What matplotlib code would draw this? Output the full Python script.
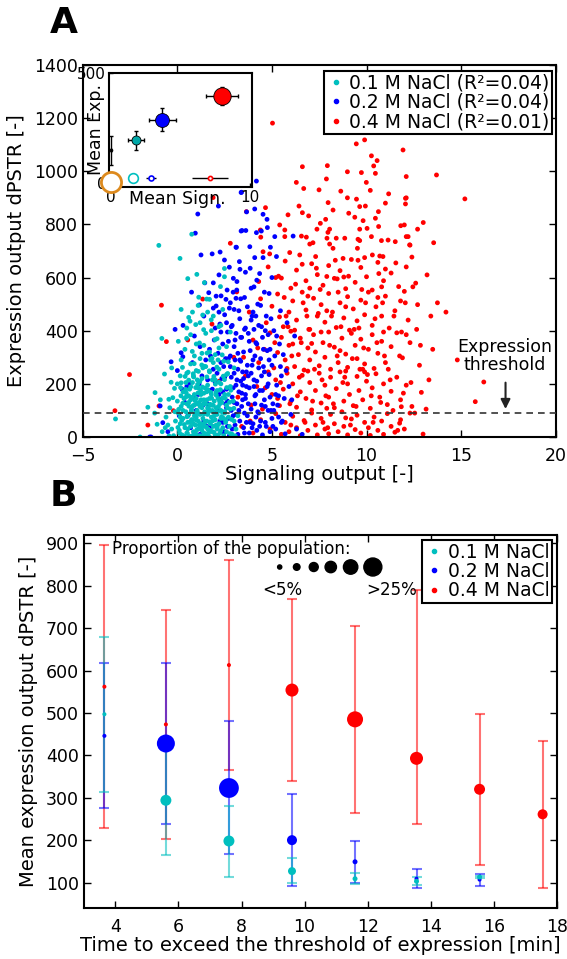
import numpy as np
import matplotlib
matplotlib.use('Agg')
from matplotlib import pyplot as plt

plt.rcParams['font.family'] = ['DejaVu Sans']

# ---------- panel A: single cell scatter (signaling, expression) ----------
red_pts = [
    (9.46, 1103), (9.9, 1118), (11.93, 1080), (10.26, 1058), (10.56, 1040), (10.38, 1020), (6.61, 1017),
    (7.93, 1021), (8.99, 998), (9.73, 995), (10.47, 992), (12.1, 980), (7.88, 971), (6.29, 958), (9.99, 958),
    (6.68, 935), (7.49, 930), (8.64, 925), (10.2, 928), (11.17, 915), (8.99, 900), (9.47, 895), (12.06, 898),
    (7.97, 882), (11.0, 880), (9.64, 867), (9.94, 869), (12.06, 877), (6.43, 869), (6.61, 844), (6.94, 832),
    (8.23, 854), (9.06, 842), (10.63, 848), (5.85, 836), (7.84, 819), (7.56, 804), (9.38, 827), (9.82, 814),
    (10.47, 823), (5.41, 798), (5.68, 779), (7.38, 782), (8.05, 782), (7.96, 770), (9.64, 782), (10.03, 785),
    (10.64, 792), (11.81, 795), (4.66, 863), (3.65, 848), (4.39, 779), (4.41, 752), (6.56, 756), (6.82, 752),
    (5.68, 754), (7.0, 726), (7.17, 731), (7.91, 748), (8.4, 748), (8.85, 748), (9.55, 744), (9.64, 739),
    (10.26, 754), (10.79, 739), (11.14, 741), (11.52, 735), (12.1, 754), (4.53, 697), (4.88, 689), (5.94, 694),
    (6.47, 685), (7.31, 679), (8.05, 726), (8.23, 710), (8.76, 672), (9.52, 710), (10.31, 685), (10.7, 681),
    (10.87, 679), (12.28, 723), (13.7, 986), (15.2, 896), (12.1, 900), (12.0, 798), (13.0, 807), (12.7, 782),
    (12.2, 754), (13.55, 731), (12.3, 722), (12.4, 677), (5.03, 1181), (1.89, 901),
    # 550 - 680
    (4.3, 585), (4.8, 640), (5.2, 600), (5.7, 662), (6.0, 560), (6.3, 628), (6.8, 588), (7.1, 652), (7.4, 611),
    (7.7, 571), (8.0, 645), (8.3, 597), (8.6, 626), (8.9, 558), (9.2, 668), (9.4, 582), (9.7, 638), (10.0, 603),
    (10.3, 553), (10.6, 657), (10.9, 588), (11.3, 617), (11.7, 566), (12.1, 640), (12.6, 579), (7.0, 560),
    (8.8, 602), (9.9, 675), (6.6, 650), (10.8, 565), (5.5, 598), (7.9, 604), (11.0, 632), (13.2, 610),
    # 400 - 550
    (3.8, 470), (4.4, 520), (4.7, 430), (5.0, 492), (5.3, 538), (5.6, 415), (5.9, 470), (6.1, 512), (6.3, 440),
    (6.6, 545), (6.8, 478), (7.0, 405), (7.2, 522), (7.4, 455), (7.6, 498), (7.8, 432), (8.0, 540), (8.2, 470),
    (8.4, 412), (8.6, 505), (8.8, 448), (9.0, 528), (9.1, 402), (9.3, 482), (9.5, 437), (9.7, 515), (9.9, 460),
    (10.1, 545), (10.3, 420), (10.5, 490), (10.8, 455), (11.0, 530), (11.2, 410), (11.5, 475), (11.8, 512),
    (12.2, 440), (12.7, 498), (13.4, 455), (6.9, 530), (8.5, 545), (9.6, 410), (7.9, 475), (10.6, 525),
    (5.4, 452), (12.0, 548), (14.2, 470), (6.2, 402), (8.9, 490),
    # 250 - 400
    (3.5, 300), (4.0, 365), (4.3, 280), (4.6, 330), (4.9, 392), (5.1, 260), (5.3, 318), (5.5, 375), (5.7, 290),
    (5.9, 345), (6.0, 398), (6.2, 265), (6.4, 310), (6.5, 372), (6.7, 252), (6.9, 335), (7.0, 290), (7.2, 385),
    (7.3, 320), (7.5, 268), (7.7, 355), (7.8, 300), (8.0, 395), (8.1, 255), (8.3, 338), (8.5, 280), (8.7, 372),
    (8.9, 312), (9.0, 262), (9.2, 390), (9.4, 345), (9.5, 295), (9.7, 368), (9.9, 275), (10.1, 330),
    (10.3, 385), (10.4, 258), (10.6, 315), (10.8, 360), (11.0, 280), (11.3, 340), (11.6, 392), (11.9, 298),
    (12.3, 355), (12.8, 270), (13.5, 330), (6.1, 350), (7.6, 395), (8.6, 325), (9.8, 255), (10.9, 395),
    (5.8, 258), (12.1, 385), (7.1, 352), (14.8, 290),
    # 100 - 250
    (2.2, 210), (3.2, 150), (3.6, 230), (3.9, 120), (4.2, 190), (4.5, 105), (4.8, 245), (5.0, 160), (5.2, 215),
    (5.4, 118), (5.6, 180), (5.8, 240), (6.0, 135), (6.1, 200), (6.3, 112), (6.5, 170), (6.6, 232), (6.8, 145),
    (7.0, 205), (7.1, 102), (7.3, 175), (7.5, 240), (7.6, 128), (7.8, 195), (8.0, 150), (8.1, 225), (8.3, 110),
    (8.4, 182), (8.6, 245), (8.8, 135), (9.0, 200), (9.1, 160), (9.3, 118), (9.5, 228), (9.6, 175), (9.8, 140),
    (10.0, 210), (10.2, 108), (10.3, 185), (10.5, 238), (10.7, 150), (10.9, 200), (11.1, 122), (11.3, 172),
    (11.6, 225), (11.8, 140), (12.1, 195), (12.4, 115), (12.9, 168), (6.9, 248), (8.9, 248), (5.3, 145),
    (7.9, 108), (9.9, 245), (11.4, 100), (13.3, 215),
    # 0 - 100
    (3.4, 40), (4.0, 15), (4.4, 65), (4.9, 30), (5.2, 88), (5.5, 10), (5.7, 55), (5.9, 20), (6.1, 78), (6.3, 35),
    (6.5, 5), (6.7, 62), (6.9, 25), (7.1, 90), (7.3, 45), (7.4, 8), (7.6, 70), (7.8, 30), (8.0, 12), (8.1, 85),
    (8.3, 50), (8.5, 20), (8.7, 95), (8.8, 40), (9.0, 8), (9.2, 68), (9.4, 28), (9.5, 82), (9.7, 15), (9.9, 55),
    (10.1, 35), (10.2, 6), (10.4, 75), (10.6, 25), (10.8, 60), (10.9, 10), (11.1, 88), (11.3, 40), (11.5, 18),
    (11.8, 65), (12.0, 30), (11.75, 52), (11.84, 114), (12.3, 90), (12.55, 90), (12.99, 11), (7.7, 55),
    (8.9, 72), (6.0, 45),
    # second pass through the dense part
    (5.15, 355), (5.45, 205), (5.75, 455), (6.05, 305), (6.35, 155), (6.65, 505), (6.95, 405), (7.25, 255),
    (7.55, 555), (7.85, 155), (8.15, 455), (8.45, 305), (8.75, 205), (9.05, 605), (9.35, 405), (9.65, 255),
    (9.95, 505), (10.25, 155), (10.55, 355), (10.85, 505), (11.15, 255), (11.45, 455), (11.75, 305),
    (12.05, 505), (12.35, 205), (12.65, 405), (6.25, 575), (7.35, 635), (8.45, 595), (9.55, 665), (10.65, 615),
    (11.55, 655), (5.65, 525), (6.75, 55), (7.95, 35), (9.15, 45), (10.35, 55), (11.65, 25), (5.95, 125),
    (7.15, 135), (8.25, 125), (9.45, 115), (10.75, 130), (6.45, 225), (7.65, 215), (8.85, 225), (10.05, 235),
    (11.25, 215), (6.85, 455), (8.05, 345), (9.25, 295), (10.45, 445), (11.85, 395), (5.35, 605), (4.65, 185),
    (4.25, 335), (3.85, 60), (12.85, 345), (13.15, 105), (13.75, 505), (12.45, 565), (7.45, 465), (8.65, 415),
    (9.85, 335), (10.95, 305), (11.95, 165), (6.55, 355), (5.85, 415), (8.35, 665), (9.75, 555),
    # outliers
    (-3.3, 99), (-1.56, 45), (-0.97, 117), (-0.21, 99), (16.2, 207), (15.75, 133), (-0.84, 496), (-0.58, 359),
    (0.55, 365), (-2.53, 235), (1.83, 425), (2.98, 300), (2.8, 729), (3.14, 546), (1.34, 519),
]

blue_pts = [
    (3.37, 920), (2.17, 869), (1.08, 839), (3.37, 775), (0.95, 767), (3.1, 714), (2.26, 696), (1.84, 689),
    (1.25, 685), (2.49, 666), (2.75, 639), (3.28, 660), (3.31, 631), (2.96, 597), (2.63, 553), (3.14, 553),
    (1.66, 543), (2.31, 531), (2.57, 518), (3.1, 522), (1.17, 497), (2.05, 493), (4.18, 963), (3.39, 921),
    (4.09, 858), (3.66, 847), (4.53, 838), (4.74, 819), (3.42, 777), (3.62, 777), (4.18, 769), (4.44, 775),
    (4.76, 788), (5.15, 754), (6.12, 756), (3.12, 714), (3.83, 716), (4.92, 714), (5.24, 679), (4.09, 675),
    (4.53, 675),
    (3.6, 620), (4.2, 590), (2.2, 610), (3.9, 560), (4.6, 545), (1.9, 580), (5.0, 600), (2.8, 505),
    # 300 - 500
    (0.3, 420), (0.9, 380), (1.4, 455), (1.7, 330), (2.0, 410), (2.2, 470), (2.4, 350), (2.6, 430), (2.8, 305),
    (3.0, 480), (3.1, 390), (3.3, 445), (3.5, 320), (3.6, 410), (3.8, 360), (4.0, 470), (4.1, 305), (4.3, 420),
    (4.5, 375), (4.7, 455), (4.9, 330), (5.1, 400), (5.4, 350), (5.8, 430), (1.9, 485), (2.7, 360), (3.2, 315),
    (3.9, 440), (4.4, 495), (2.3, 395), (1.2, 340), (3.7, 490), (4.8, 385), (5.6, 310), (6.2, 380),
    (2.9, 420), (3.4, 375), (4.2, 350), (2.5, 460), (3.0, 340),
    # 150 - 300
    (0.0, 250), (0.5, 190), (0.8, 280), (1.1, 160), (1.3, 230), (1.5, 290), (1.7, 175), (1.9, 255), (2.0, 205),
    (2.2, 160), (2.3, 280), (2.5, 225), (2.6, 180), (2.8, 265), (2.9, 150), (3.0, 240), (3.1, 195), (3.3, 290),
    (3.4, 165), (3.5, 220), (3.7, 270), (3.8, 185), (3.9, 240), (4.1, 155), (4.2, 210), (4.4, 295), (4.5, 175),
    (4.6, 245), (4.8, 200), (5.0, 270), (5.2, 160), (5.5, 230), (5.9, 190), (2.1, 240), (2.7, 295), (3.6, 160),
    (4.3, 260), (1.6, 215), (3.2, 255), (4.0, 290), (2.4, 170), (4.9, 150), (0.29, 302), (0.64, 204),
    (-0.33, 283), (-0.12, 405), (0.2, 317), (3.35, 210), (3.75, 230), (2.95, 185), (4.05, 190),
    # 0 - 150
    (-1.46, 0), (-1.39, 0), (-0.91, 117), (-0.77, 54), (-0.5, 20), (0.1, 80), (0.4, 130), (0.7, 35), (1.0, 100),
    (1.2, 10), (1.4, 60), (1.6, 125), (1.8, 40), (2.0, 90), (2.1, 5), (2.3, 140), (2.4, 55), (2.5, 20),
    (2.6, 110), (2.7, 70), (2.9, 30), (3.0, 130), (3.1, 85), (3.2, 10), (3.3, 60), (3.4, 115), (3.5, 35),
    (3.6, 145), (3.7, 80), (3.8, 15), (3.9, 105), (4.0, 50), (4.1, 125), (4.2, 25), (4.3, 90), (4.4, 60),
    (4.5, 8), (4.6, 140), (4.7, 40), (4.8, 100), (4.9, 20), (5.0, 70), (5.2, 30), (5.3, 120), (5.5, 55),
    (5.7, 12), (6.0, 85), (6.3, 30), (3.95, 35), (2.85, 100), (4.15, 75), (3.45, 140), (4.65, 115), (3.05, 45),
    (2.55, 125), (5.1, 100), (6.6, 10), (3.25, 100), (3.65, 55), (4.35, 40), (2.75, 5),
    # second pass through the dense part
    (2.15, 315), (2.45, 265), (2.65, 395), (2.85, 225), (3.05, 365), (3.15, 125), (3.25, 475), (3.35, 285),
    (3.45, 195), (3.55, 405), (3.65, 245), (3.75, 125), (3.85, 325), (3.95, 455), (4.05, 215), (4.15, 355),
    (4.25, 95), (4.35, 175), (4.45, 415), (4.55, 265), (4.65, 55), (4.75, 325), (4.85, 235), (4.95, 445),
    (5.05, 125), (5.15, 305), (5.25, 195), (5.35, 75), (5.45, 265), (5.65, 145), (1.75, 305), (1.95, 365),
    (2.25, 425), (2.55, 295), (2.95, 545), (3.15, 585), (3.55, 525), (4.05, 565), (4.35, 615), (3.85, 635),
    (2.35, 220), (2.65, 135), (2.95, 80), (3.25, 170), (3.55, 90), (3.85, 55), (4.15, 160), (4.45, 120),
    (4.75, 190), (5.05, 40), (5.35, 155), (1.85, 180), (2.15, 100), (2.45, 15), (1.55, 40), (1.35, 120),
    (1.15, 200), (0.85, 150), (0.55, 80), (0.25, 180), (3.05, 290), (3.45, 245), (3.75, 390), (4.05, 405),
    (4.55, 330), (4.25, 500), (2.75, 485), (3.35, 520), (4.85, 540), (5.45, 475), (5.75, 250), (6.05, 140),
    (2.05, 530), (1.45, 580), (0.75, 545), (2.65, 40), (3.55, 15), (4.95, 100), (5.55, 60), (3.15, 215),
    (3.95, 270), (4.45, 230), (2.25, 60), (3.65, 190), (4.85, 290), (2.85, 415), (3.35, 375), (4.15, 455),
    (4.65, 400), (5.25, 380),
]

cyan_pts = [
    (-0.98, 721), (0.76, 763), (0.14, 672), (0.55, 596), (1.03, 612), (1.43, 581), (2.49, 634), (2.49, 603),
    (2.28, 566), (1.13, 526), (1.55, 519), (1.7, 518), (-0.82, 371), (0.6, 450), (1.34, 459), (-3.27, 68),
    (-1.97, 0), (-1.56, 112), (-1.18, 167), (-0.68, 237), (-0.45, 142), (-0.15, 183), (0.2, 204), (-1.07, 48),
    # 300 - 500
    (0.2, 480), (0.5, 410), (0.8, 470), (1.0, 350), (1.2, 430), (1.5, 390), (1.7, 320), (1.9, 455), (2.1, 370),
    (2.3, 420), (2.6, 340), (1.1, 495), (0.4, 330), (1.6, 470), (0.9, 305), (2.0, 310), (1.4, 345), (2.4, 480),
    (0.7, 385), (1.8, 400), (2.8, 395), (0.05, 360), (1.3, 315), (2.2, 335),
    # 150 - 300
    (-0.3, 260), (0.0, 200), (0.2, 290), (0.3, 170), (0.5, 240), (0.6, 155), (0.7, 275), (0.8, 205), (0.9, 160),
    (1.0, 250), (1.1, 185), (1.2, 295), (1.3, 220), (1.4, 165), (1.5, 265), (1.6, 195), (1.7, 245), (1.8, 160),
    (1.9, 280), (2.0, 215), (2.1, 175), (2.2, 255), (2.3, 200), (2.5, 160), (2.6, 235), (2.8, 190), (3.0, 260),
    (0.45, 205), (1.05, 215), (1.55, 170), (2.45, 285), (0.85, 230), (1.35, 260), (1.85, 215), (0.15, 230),
    (2.7, 160), (1.25, 160), (0.65, 180), (1.75, 290), (2.15, 290),
    # 0 - 150
    (-0.8, 20), (-0.6, 75), (-0.4, 110), (-0.3, 30), (-0.2, 5), (-0.1, 60), (0.0, 135), (0.05, 90), (0.1, 25),
    (0.15, 50), (0.2, 115), (0.25, 8), (0.3, 70), (0.35, 145), (0.4, 35), (0.45, 95), (0.5, 15), (0.5, 125),
    (0.55, 55), (0.6, 85), (0.65, 3), (0.7, 40), (0.7, 140), (0.75, 105), (0.8, 65), (0.85, 20), (0.9, 120),
    (0.9, 80), (0.95, 45), (1.0, 10), (1.0, 145), (1.05, 100), (1.1, 60), (1.1, 30), (1.15, 130), (1.2, 85),
    (1.2, 5), (1.25, 50), (1.3, 110), (1.3, 25), (1.35, 70), (1.4, 140), (1.4, 40), (1.45, 95), (1.5, 12),
    (1.5, 125), (1.55, 60), (1.6, 85), (1.6, 30), (1.65, 105), (1.7, 0), (1.7, 145), (1.75, 50), (1.8, 75),
    (1.8, 120), (1.85, 20), (1.9, 95), (1.9, 40), (1.95, 135), (2.0, 65), (2.0, 8), (2.05, 110), (2.1, 30),
    (2.1, 85), (2.15, 145), (2.2, 50), (2.25, 15), (2.3, 100), (2.3, 70), (2.35, 130), (2.4, 35), (2.45, 5),
    (2.5, 90), (2.55, 55), (2.6, 120), (2.6, 20), (2.7, 75), (2.75, 40), (2.8, 105), (2.9, 10), (3.0, 60),
    (3.1, 30), (0.3, 100), (0.6, 130), (0.8, 5), (1.0, 75), (1.2, 115), (1.45, 55), (1.65, 15), (1.85, 100),
    (2.05, 45), (2.25, 125), (2.45, 70), (0.55, 30), (0.95, 90), (1.35, 0), (1.75, 25), (2.15, 5), (0.15, 75),
    (-0.5, 45), (1.55, 140), (0.75, 65), (1.15, 45), (1.95, 80), (2.35, 95), (0.45, 150), (1.05, 125),
    (1.25, 140), (1.6, 110), (1.4, 15), (0.85, 50), (2.65, 110), (2.95, 135), (3.2, 80), (-1.2, 90), (-0.9, 140),
    # second pass through the dense block
    (0.12, 14), (0.37, 47), (0.51, 76), (0.74, 98), (0.93, 137), (1.09, 166), (1.33, 188), (1.56, 226),
    (1.69, 249), (1.94, 17), (2.11, 39), (2.34, 77), (2.5, 96), (2.76, 131), (0.19, 155), (0.44, 179),
    (0.6, 214), (0.84, 238), (1.03, 27), (1.24, 49), (1.41, 86), (1.63, 109), (1.81, 146), (2.04, 168),
    (2.2, 206), (2.43, 229), (0.07, 104), (0.29, 127), (0.47, 166), (0.71, 189), (0.86, 226), (1.11, 247),
    (1.27, 36), (1.49, 58), (1.66, 95), (1.9, 119), (2.06, 157), (2.27, 178), (2.49, 216), (2.66, 239),
    (0.36, 3), (0.61, 116), (0.77, 149), (0.97, 186), (1.19, 209), (1.37, 124), (1.59, 6), (1.77, 168),
    (2.01, 199), (2.17, 114), (2.39, 147), (2.61, 186), (2.79, 13), (0.17, 186), (0.03, 36), (-0.13, 95),
    (-0.24, 148), (-0.33, 206), (-0.44, 4), (-0.64, 35), (2.87, 66), (2.99, 108), (3.06, 4), (0.66, 56),
    (1.47, 184), (1.87, 61), (2.29, 24), (0.99, 64), (1.71, 57), (0.57, 244), (1.29, 271), (2.09, 263),
    (1.57, 316), (0.79, 322), (2.37, 309), (1.17, 354), (1.99, 366), (0.49, 371), (2.69, 283), (0.27, 262),
    (1.39, 404), (2.19, 415), (0.97, 423), (0.67, 436), (1.79, 441), (1.13, 88), (1.53, 38), (0.83, 118),
    (2.23, 135), (1.93, 228), (0.41, 228), (1.61, 178), (2.53, 146), (0.23, 62), (1.07, 198), (2.13, 96),
    (1.43, 266), (0.89, 276), (1.83, 296), (2.57, 62), (2.83, 176), (0.53, 14), (1.23, 175), (0.93, 15),
    (1.73, 123),
]

labels_A = ['0.1 M NaCl (R\u00b2=0.04)', '0.2 M NaCl (R\u00b2=0.04)', '0.4 M NaCl (R\u00b2=0.01)']
threshold = 90

# inset: population means
mean_x = [0.0, 1.8, 3.7, 8.0]
mean_y = [149, 194, 288, 393]
mean_xerr = [0.0, 0.6, 0.95, 1.15]
mean_yerr = [65, 43, 52, 41]
mean_ms = [2, 6.5, 10, 12.5]
low_x = [0.0, 1.6, 2.9, 7.1]
low_y = [5, 24, 24, 24]
low_xerr = [0.0, 0.0, 0.36, 1.3]
low_ms = [14.5, 7, 3.6, 3]

# ---------- panel B: mean expression vs time to threshold ----------
labels_B = ['0.1 M NaCl', '0.2 M NaCl', '0.4 M NaCl']
t_cyan = [3.65, 5.6, 7.6, 9.6, 11.6, 13.55, 15.55]
m_cyan = [497, 294, 198, 127, 109, 103, 113]
lo_cyan = [314, 164, 113, 98, 97, 94, 110]
hi_cyan = [679, 426, 280, 157, 123, 113, 116]
p_cyan = [1.7, 13.3, 13.3, 8.3, 3.3, 3.3, 3.3]

t_blue = [3.65, 5.6, 7.6, 9.6, 11.6, 13.55, 15.55]
m_blue = [446, 428, 323, 200, 149, 109, 107]
lo_blue = [275, 239, 167, 91, 98, 88, 93]
hi_blue = [619, 619, 480, 310, 199, 131, 121]
p_blue = [1.7, 25, 28, 11.7, 3.3, 1.7, 1.7]

t_red = [3.65, 5.6, 7.6, 9.6, 11.6, 13.55, 15.55, 17.55]
m_red = [562, 473, 613, 554, 485, 393, 320, 261]
lo_red = [229, 202, 365, 340, 265, 239, 142, 88]
hi_red = [897, 743, 861, 769, 705, 790, 497, 434]
p_red = [1.7, 1.7, 1.7, 16.7, 21.7, 16.7, 13.3, 11.7]

legend_props = [2, 6, 10, 14, 19, 25]

cyan = '#00bfbf'
blue = '#0000ff'
red = '#ff0000'
orange = '#dd8a1e'


def prop_to_size(p):
    ''' proportion of the population (%) -> scatter size (pt^2) '''
    d = (3 + 0.6 * np.asarray(p)) * 0.72
    return d ** 2


def style_axes(ax, lw=1.5):
    ax.tick_params(direction='in', top=True, right=True, length=5, width=1, labelsize=12.5)
    ax.tick_params(axis='x', pad=7)
    for s in ax.spines.values():
        s.set_linewidth(lw)


fig = plt.figure(figsize=(5.67, 9.59), dpi=100)

# ---------------- A ----------------
axA = fig.add_axes([0.146, 0.5443, 0.834, 0.388])
pts = {'red': red_pts, 'blue': blue_pts, 'cyan': cyan_pts}
for key, col in [('red', red), ('blue', blue), ('cyan', cyan)]:
    x, y = zip(*pts[key])
    axA.scatter(x, y, s=12, color=col, edgecolors='none', zorder=2)
axA.axhline(threshold, ls='--', color='#333333', lw=1.2, dashes=(4, 3), zorder=3)
axA.annotate('', xy=(17.35, 95), xytext=(17.35, 215),
             arrowprops=dict(arrowstyle='-|>', color='#222222', lw=1.5, mutation_scale=14))
axA.text(17.3, 305, 'Expression\nthreshold', ha='center', va='center', fontsize=12.5, linespacing=1.0)
axA.set_xlim(-5, 20)
axA.set_ylim(0, 1400)
axA.set_xticks(range(-5, 21, 5))
axA.set_yticks(range(0, 1401, 200))
axA.set_xlabel('Signaling output [-]', fontsize=14, labelpad=0)
axA.set_ylabel('Expression output dPSTR [-]', fontsize=14, labelpad=6)
style_axes(axA)
handles = [plt.Line2D([], [], ls='none', marker='o', ms=3, color=c) for c in (cyan, blue, red)]
leg = axA.legend(handles, labels_A, loc='upper right', bbox_to_anchor=(0.993, 0.985), fontsize=13.5,
                 fancybox=False, edgecolor='black', framealpha=1, borderpad=0.15, labelspacing=0.02,
                 handletextpad=0.2, handlelength=1.0, borderaxespad=0)
leg.get_frame().set_linewidth(1.5)
fig.text(0.112, 0.976, 'A', fontsize=26, fontweight='bold', ha='center', va='center',
         family=['Liberation Sans Narrow', 'DejaVu Sans'])

# inset
axI = fig.add_axes([0.1922, 0.805, 0.252, 0.119])
axI.set_facecolor('white')
axI.errorbar(low_x, low_y, xerr=low_xerr, fmt='none', ecolor='black', elinewidth=1, capsize=0, zorder=2)
for xi, yi, ms, col in zip(low_x, low_y, low_ms, [orange, cyan, blue, red]):
    axI.plot(xi, yi, 'o', ms=ms, mfc='white', mec=col, mew=2 if col == orange else 1.2,
             zorder=5, clip_on=False)
axI.errorbar(mean_x, mean_y, xerr=mean_xerr, yerr=mean_yerr, fmt='none', ecolor='black',
             elinewidth=1, capsize=1.5, zorder=2)
for xi, yi, ms, col in zip(mean_x, mean_y, mean_ms, ['black', '#00a8a8', blue, red]):
    axI.plot(xi, yi, 'o', ms=ms, mfc=col, mec='black', mew=0.6, zorder=3)
axI.set_xlim(-0.15, 10.15)
axI.set_ylim(-18, 500)
axI.set_xticks([0, 10])
axI.set_yticks([0, 500])
axI.tick_params(direction='in', length=3, width=1, labelsize=11, pad=2)
for s in axI.spines.values():
    s.set_linewidth(1.5)
axI.set_xlabel('Mean Sign.', fontsize=12.5)
axI.xaxis.set_label_coords(0.48, -0.03)
axI.set_ylabel('Mean Exp.', fontsize=12.5)
axI.yaxis.set_label_coords(-0.03, 0.5)

# ---------------- B ----------------
axB = fig.add_axes([0.148, 0.0532, 0.834, 0.389])
series = [
    (t_red, m_red, lo_red, hi_red, p_red, red),
    (t_blue, m_blue, lo_blue, hi_blue, p_blue, blue),
    (t_cyan, m_cyan, lo_cyan, hi_cyan, p_cyan, cyan),
]
for t, m, lo, hi, p, col in series:
    m = np.array(m)
    yerr = [m - np.array(lo), np.array(hi) - m]
    axB.errorbar(t, m, yerr=yerr, fmt='none', ecolor=col, alpha=0.55, elinewidth=1.5,
                 capsize=3.5, capthick=1.5, zorder=2)
for t, m, lo, hi, p, col in series:
    axB.scatter(t, m, s=prop_to_size(p), color=col, edgecolors='none', zorder=3)
axB.set_xlim(3, 18)
axB.set_ylim(40, 920)
axB.set_xticks(range(4, 19, 2))
axB.set_yticks(range(100, 901, 100))
axB.set_xlabel('Time to exceed the threshold of expression [min]', fontsize=14, labelpad=0)
axB.set_ylabel('Mean expression output dPSTR [-]', fontsize=14, labelpad=6)
style_axes(axB)
handles = [plt.Line2D([], [], ls='none', marker='o', ms=3, color=c) for c in (cyan, blue, red)]
leg = axB.legend(handles, labels_B, loc='upper right', bbox_to_anchor=(0.99, 0.987), fontsize=13.5,
                 fancybox=False, edgecolor='black', framealpha=1, borderpad=0.15, labelspacing=0.02,
                 handletextpad=0.2, handlelength=1.0, borderaxespad=0)
leg.get_frame().set_linewidth(1.5)

# size legend
lx = [0.414, 0.450, 0.486, 0.522, 0.564, 0.611]
axB.scatter(lx, [0.914] * len(lx), s=prop_to_size(legend_props), color='black',
            transform=axB.transAxes, clip_on=False, zorder=4)
axB.text(0.059, 0.962, 'Proportion of the population:', transform=axB.transAxes,
         fontsize=12, ha='left', va='center')
axB.text(0.419, 0.853, '<5%', transform=axB.transAxes, fontsize=12, ha='center', va='center')
axB.text(0.651, 0.853, '>25%', transform=axB.transAxes, fontsize=12, ha='center', va='center')
fig.text(0.112, 0.483, 'B', fontsize=26, fontweight='bold', ha='center', va='center',
         family=['Liberation Sans Narrow', 'DejaVu Sans'])

fig.savefig('out.png', dpi=100)
